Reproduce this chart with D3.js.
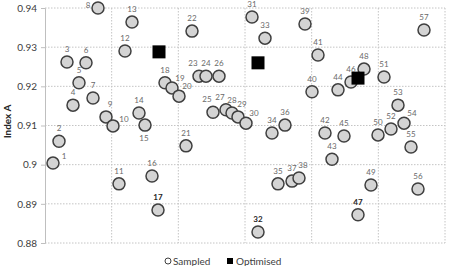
<!DOCTYPE html>
<html>
<head>
<meta charset="utf-8">
<script src="https://cdn.jsdelivr.net/npm/d3@7"></script>
<style>
  body { margin: 0; background: #fff; }
  svg text { font-family: Lato, "Open Sans", sans-serif; }
</style>
</head>
<body>
<svg id="chart" width="453" height="266"></svg>
<script>
// sampled points: id, x position, Index A
const sampledIds = d3.range(1, 58);
const sampledX = [1.2, 2.1, 3.3, 4.2, 5.1, 6.15, 7.2, 7.95, 9.15, 10.2,
  11.1, 12.0, 13.05, 14.1, 15.0, 16.05, 16.95, 18.0, 19.05, 20.1,
  21.15, 22.05, 23.1, 24.15, 25.2, 26.1, 27.15, 28.05, 28.95, 30.15,
  31.05, 31.95, 33.0, 34.05, 34.95, 36.0, 37.05, 38.1, 39.0, 40.05,
  40.95, 42.0, 43.05, 43.95, 44.85, 45.9, 46.95, 47.85, 48.9, 49.95,
  50.85, 51.9, 52.95, 53.85, 54.9, 55.95, 56.85];
const sampledY = [0.9004, 0.9060, 0.9262, 0.9152, 0.9209, 0.9260, 0.9170, 0.9400, 0.9122, 0.9099,
  0.8951, 0.9290, 0.9364, 0.9132, 0.9101, 0.8971, 0.8884, 0.9209, 0.9196, 0.9175,
  0.9048, 0.9341, 0.9226, 0.9226, 0.9134, 0.9226, 0.9140, 0.9132, 0.9122, 0.9106,
  0.9377, 0.8828, 0.9323, 0.9081, 0.8951, 0.9101, 0.8958, 0.8966, 0.9359, 0.9186,
  0.9280, 0.9081, 0.9014, 0.9191, 0.9073, 0.9211, 0.8872, 0.9244, 0.8948, 0.9076,
  0.9224, 0.9091, 0.9152, 0.9106, 0.9045, 0.8938, 0.9344];

// optimised runs
const optimisedX = [17.1, 31.95, 46.95];
const optimisedY = [0.9288, 0.9260, 0.9221];

// ids printed in bold, and labels not sitting straight above their point
const boldIds = [17, 32, 47];
const labelSide = {
  1: 'e', 8: 'w', 9: 'nr', 10: 'e', 15: 's', 19: 'ne', 20: 'ne', 23: 'nw', 25: 'nw',
  27: 'nw', 29: 'nr', 30: 'ne', 38: 'nr', 54: 'ne'
};

const yTicks = [0.88, 0.89, 0.9, 0.91, 0.92, 0.93, 0.94];
const xTicks = [0, 10, 20, 30, 40, 50, 60];

const width = 453;
const height = 266;
const margin = { top: 8, right: 8, bottom: 23, left: 45 };

const svg = d3.select('#chart');

const xScale = d3.scaleLinear()
  .domain([0, 60])
  .range([margin.left, width - margin.right]);

const yScale = d3.scaleLinear()
  .domain([0.88, 0.94])
  .range([height - margin.bottom, margin.top]);

// grid
svg.append('g')
  .selectAll('line')
  .data(yTicks)
  .join('line')
  .attr('x1', margin.left)
  .attr('x2', width - margin.right)
  .attr('y1', d => yScale(d))
  .attr('y2', d => yScale(d))
  .attr('stroke', '#c4c4c4')
  .attr('stroke-dasharray', '1.5,1.5');

svg.append('g')
  .selectAll('line')
  .data(xTicks.slice(1))
  .join('line')
  .attr('x1', d => xScale(d))
  .attr('x2', d => xScale(d))
  .attr('y1', margin.top)
  .attr('y2', height - margin.bottom)
  .attr('stroke', '#c4c4c4')
  .attr('stroke-dasharray', '1.5,1.5');

// y axis
const yAxis = d3.axisLeft(yScale)
  .tickValues(yTicks)
  .tickSize(4)
  .tickPadding(4)
  .tickFormat(d => d3.format('')(+d.toFixed(2)));

const gy = svg.append('g')
  .attr('transform', `translate(${margin.left},0)`)
  .call(yAxis);
gy.select('.domain').attr('stroke', '#bfbfbf');
gy.selectAll('.tick line').attr('stroke', '#bfbfbf');
gy.selectAll('.tick text')
  .attr('fill', '#404040')
  .style('font-size', '10px');

svg.append('text')
  .attr('transform', `translate(11,${(margin.top + height - margin.bottom) / 2 - 4}) rotate(-90)`)
  .attr('text-anchor', 'middle')
  .attr('fill', '#262626')
  .style('font-size', '10px')
  .style('font-weight', 'bold')
  .text('Index A');

const sampled = sampledIds.map((id, i) => ({ id, x: sampledX[i], y: sampledY[i] }));
const optimised = optimisedX.map((x, i) => ({ x, y: optimisedY[i] }));

// sampled circles
svg.append('g')
  .selectAll('circle')
  .data(sampled)
  .join('circle')
  .attr('cx', d => xScale(d.x))
  .attr('cy', d => yScale(d.y))
  .attr('r', 6)
  .attr('fill', '#d4d4d4')
  .attr('stroke', '#3f3f3f')
  .attr('stroke-width', 1.5);

// optimised squares
svg.append('g')
  .selectAll('rect')
  .data(optimised)
  .join('rect')
  .attr('x', d => xScale(d.x) - 6.5)
  .attr('y', d => yScale(d.y) - 6.5)
  .attr('width', 13)
  .attr('height', 13)
  .attr('fill', '#000');

// point labels
const offsets = {
  n: [0, -10],
  nw: [-6, -10],
  nr: [4, -10],
  ne: [8, -7],
  e: [11, -4],
  s: [-1, 16],
  w: [-10, 0]
};

svg.append('g')
  .selectAll('text')
  .data(sampled)
  .join('text')
  .each(function (d) {
    const o = offsets[labelSide[d.id] || 'n'];
    const bold = boldIds.includes(d.id);
    d3.select(this)
      .attr('x', xScale(d.x) + o[0])
      .attr('y', yScale(d.y) + o[1])
      .attr('text-anchor', 'middle')
      .attr('fill', bold ? '#262626' : '#6a6a6a')
      .style('font-weight', bold ? 'bold' : 'normal');
  })
  .style('font-size', '8px')
  .text(d => d.id);

// legend
const legend = svg.append('g').attr('transform', 'translate(0,261)');
legend.append('circle')
  .attr('cx', 168).attr('cy', 0).attr('r', 3)
  .attr('fill', '#fff').attr('stroke', '#404040').attr('stroke-width', 1);
legend.append('text')
  .attr('x', 173).attr('y', 3.5)
  .attr('fill', '#404040')
  .style('font-size', '10px')
  .text('Sampled');
legend.append('rect')
  .attr('x', 227).attr('y', -3).attr('width', 6).attr('height', 6)
  .attr('fill', '#000');
legend.append('text')
  .attr('x', 236).attr('y', 3.5)
  .attr('fill', '#404040')
  .style('font-size', '10px')
  .text('Optimised');
</script>
</body>
</html>
